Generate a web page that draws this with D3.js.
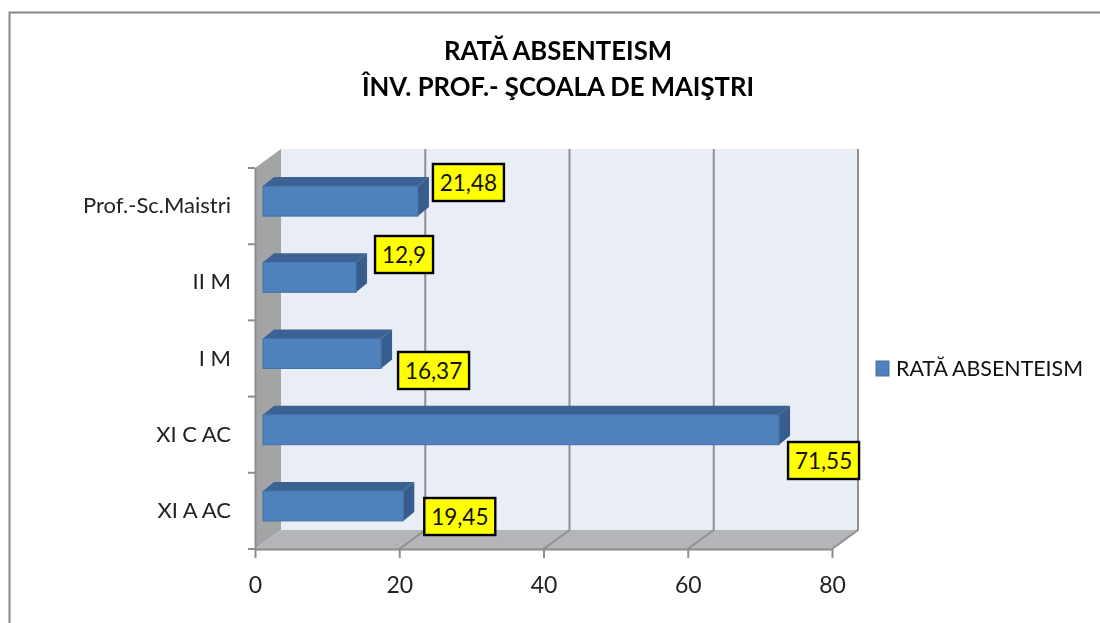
<!DOCTYPE html>
<html><head><meta charset="utf-8">
<script src="https://cdn.jsdelivr.net/npm/d3@7/dist/d3.min.js"></script>
<style>html,body{margin:0;padding:0;background:#fff}svg{display:block;filter:blur(0.35px)}text{font-family:Lato,"Open Sans",sans-serif}</style>
</head><body><svg id="c" width="1100" height="623"></svg>
<script>
const categories = ["XI A AC","XI C AC","I M","II M","Prof.-Sc.Maistri"];
const values = [19.45,71.55,16.37,12.9,21.48];
const valueLabels = ["19,45","71,55","16,37","12,9","21,48"];
const titleLines = ["RATĂ ABSENTEISM","ÎNV. PROF.- ŞCOALA DE MAIŞTRI"];
const seriesName = "RATĂ ABSENTEISM";
const xTicks = [0,20,40,60,80];

const svg = d3.select("#c");
const x = d3.scaleLinear().domain([0,80]).range([255,832]);
const y = d3.scaleBand().domain(categories).range([549,168]);
const depth = {dx:26, dy:-19};
const barDepth = {dx:11, dy:-9, inset:8, h:30, shift:-5};
const labelBox = {dx:[10,-2,6,8,4], top:[498,442,352,236,164]};

// frame
svg.append("path").attr("d","M9.5,623V12.5H1100").attr("fill","none").attr("stroke","#868686").attr("stroke-width",2);

// walls
const pts = a => a.map(p=>p.join(",")).join(" ");
const x0=x(0), x1=x(80), yb=549, yt=168;
svg.append("polygon").attr("points",pts([[x0+depth.dx,yt+depth.dy],[x1+depth.dx,yt+depth.dy],[x1+depth.dx,yb+depth.dy],[x0+depth.dx,yb+depth.dy]])).attr("fill","#e8edf6");
svg.append("polygon").attr("points",pts([[x0,yt],[x0+depth.dx,yt+depth.dy],[x0+depth.dx,yb+depth.dy],[x0,yb]])).attr("fill","#a3a4a6");
svg.append("polygon").attr("points",pts([[x0,yb],[x0+depth.dx,yb+depth.dy],[x1+depth.dx,yb+depth.dy],[x1,yb]])).attr("fill","#b3b5b9");

// gridlines on back wall and floor
svg.append("g").selectAll("path").data(xTicks.slice(1)).join("path")
  .attr("d",d=>`M${x(d)},${yb}L${x(d)+depth.dx},${yb+depth.dy}V${yt+depth.dy}`)
  .attr("fill","none").attr("stroke","#8f8f8f").attr("stroke-width",2);

// axes
const axX = svg.append("g").attr("transform",`translate(0,${yb})`)
  .call(d3.axisBottom(x).tickValues(xTicks).tickSize(9).tickPadding(19).tickSizeOuter(0));
axX.select(".domain").attr("stroke","#8c8c8c").attr("stroke-width",2);
axX.selectAll("line").attr("stroke","#8c8c8c").attr("stroke-width",2);
axX.selectAll("text").attr("font-size",23).attr("fill","#222").style("font-family","Lato");

const axY = svg.append("g").attr("transform",`translate(${x0},0)`)
  .call(d3.axisLeft(y).tickSize(0).tickPadding(24).tickSizeOuter(0));
axY.select(".domain").attr("stroke","#8c8c8c").attr("stroke-width",2);
axY.selectAll("text").attr("font-size",22).attr("fill","#222").style("font-family","Lato").attr("dy","0.32em");
// category separators
svg.append("g").selectAll("line").data(categories.concat("")).join("line")
  .attr("x1",x0-7).attr("x2",x0)
  .attr("y1",(d,i)=>yb-i*y.step()).attr("y2",(d,i)=>yb-i*y.step())
  .attr("stroke","#8c8c8c").attr("stroke-width",2);

// bars
const scale = (x1-x0)/80;
const bx = barDepth.inset+x0;
const bars = svg.append("g").selectAll("g").data(values).join("g");
const by = i => y(categories[i])+y.bandwidth()/2+barDepth.shift-barDepth.h/2;
const bw = d => d*scale;
bars.append("polygon").attr("fill","#3b6292")
  .attr("points",(d,i)=>pts([[bx,by(i)],[bx+barDepth.dx,by(i)+barDepth.dy],[bx+bw(d)+barDepth.dx,by(i)+barDepth.dy],[bx+bw(d),by(i)]]));
bars.append("polygon").attr("fill","#365d8d")
  .attr("points",(d,i)=>pts([[bx+bw(d),by(i)],[bx+bw(d)+barDepth.dx,by(i)+barDepth.dy],[bx+bw(d)+barDepth.dx,by(i)+barDepth.dy+barDepth.h],[bx+bw(d),by(i)+barDepth.h]]));
bars.append("rect").attr("x",bx).attr("y",(d,i)=>by(i)).attr("width",bw).attr("height",barDepth.h)
  .attr("fill","#4f81bd").attr("stroke","#4471a6").attr("stroke-width",1);

// data labels
const lbl = svg.append("g").selectAll("g").data(values).join("g")
  .attr("transform",(d,i)=>`translate(${bx+bw(d)+barDepth.dx+labelBox.dx[i]},${labelBox.top[i]})`);
lbl.append("rect").attr("width",(d,i)=>valueLabels[i].length===4?58:71).attr("height",37)
  .attr("fill","#ffff00").attr("stroke","#000").attr("stroke-width",2.4);
lbl.append("text").attr("x",(d,i)=>(valueLabels[i].length===4?58:71)/2).attr("y",19).attr("dy","0.35em")
  .attr("text-anchor","middle").attr("font-size",22.5).attr("fill","#111").text((d,i)=>valueLabels[i]);

// title
svg.append("g").selectAll("text").data(titleLines).join("text")
  .attr("x",558).attr("y",(d,i)=>60+i*36).attr("text-anchor","middle")
  .attr("font-size",25.7).attr("font-weight",700).attr("fill","#000").text(d=>d);

// legend
svg.append("rect").attr("x",876).attr("y",361).attr("width",13).attr("height",15).attr("fill","#4f81bd").attr("stroke","#4471a6");
svg.append("text").attr("x",896).attr("y",376).attr("font-size",21.4).attr("fill","#111").text(seriesName);
</script></body></html>
